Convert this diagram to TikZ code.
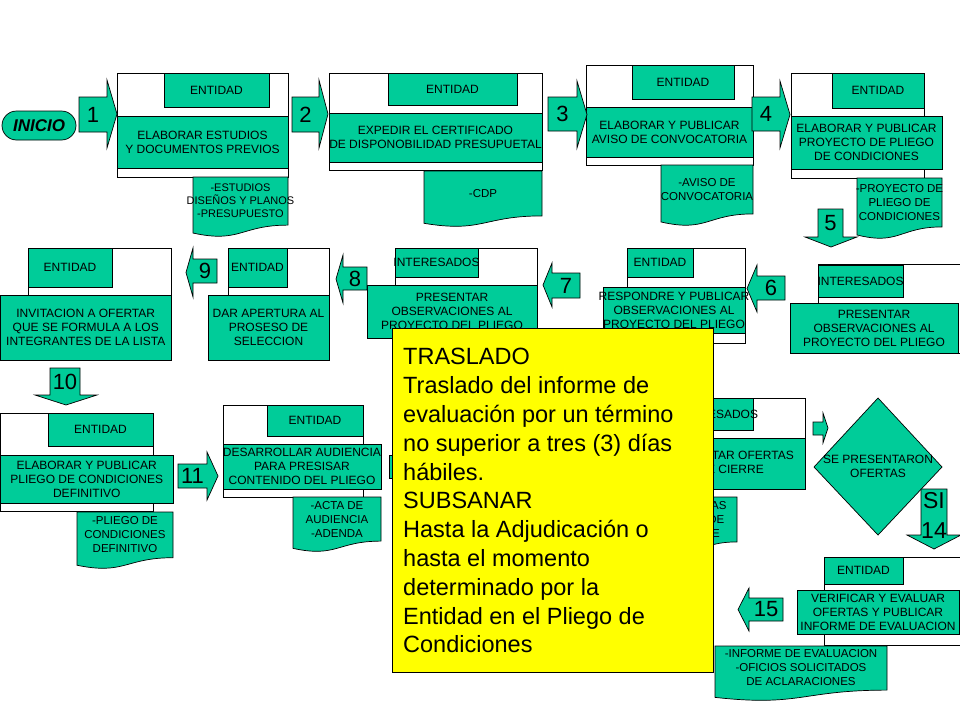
\documentclass[tikz,border=0pt]{standalone}
\usepackage{fontspec}
\setmainfont{Liberation Sans}
\definecolor{mygreen}{RGB}{0,204,153}
\definecolor{myyellow}{RGB}{255,255,0}
\tikzset{
  boxline/.style={draw=black, line width=0.7pt},
  txt/.style={font=\fontsize{12}{14}\selectfont, align=center, inner sep=0pt, text=black},
  doctxt/.style={font=\fontsize{11.5}{14}\selectfont, align=center, inner sep=0pt, text=black},
  numtxt/.style={font=\fontsize{22}{26}\selectfont, inner sep=0pt, text=black},
}
% white outer frame
\newcommand{\myWrect}[4]{\draw[boxline, fill=white] (#1,#2) rectangle (#3,#4);}
% green box with centered text
\newcommand{\myGbox}[6]{\draw[boxline, fill=mygreen] (#2,#3) rectangle (#4,#5);
  \node[txt] (#1) at ({(#2+#4)/2},{(#3+#5)/2}) {#6};}
% document shape
\newcommand{\myDoc}[6]{\draw[boxline, fill=mygreen] (#2,#3) -- (#4,#3) -- (#4,{#3+0.802*#5})
  .. controls ({(#2+#4)/2},{#3+0.802*#5}) and ({(#2+#4)/2},{#3+1.1075*#5}) .. (#2,{#3+0.934*#5}) -- cycle;
  \node[doctxt] (#1) at ({(#2+#4)/2},{#3+0.4*#5}) {#6};}
% right block arrow: name, xs, xb, xt, yst, ysb, yht, yhb, label
\newcommand{\myRarr}[9]{\draw[boxline, fill=mygreen] (#2,#5) -- (#3,#5) -- (#3,#7) -- (#4,{(#7+#8)/2}) -- (#3,#8) -- (#3,#6) -- (#2,#6) -- cycle;
  \node[numtxt] (#1) at ({(#2+#3)/2},{(#5+#6)/2}) {#9};}
% left block arrow: name, xt, xb, xs, yst, ysb, yht, yhb, label
\newcommand{\myLarr}[9]{\draw[boxline, fill=mygreen] (#2,{(#7+#8)/2}) -- (#3,#7) -- (#3,#5) -- (#4,#5) -- (#4,#6) -- (#3,#6) -- (#3,#8) -- cycle;
  \node[numtxt] (#1) at ({(#3+#4)/2},{(#5+#6)/2}) {#9};}
% down block arrow: name, xsl, xsr, xhl, xhr, ys, yb, yt, label
\newcommand{\myDarr}[9]{\draw[boxline, fill=mygreen] (#2,#6) -- (#3,#6) -- (#3,#7) -- (#5,#7) -- ({(#4+#5)/2},#8) -- (#4,#7) -- (#2,#7) -- cycle;
  \node[numtxt] (#1) at ({(#2+#3)/2},{(#6+#7)/2}) {#9};}
\begin{document}
\begin{tikzpicture}[x=1pt,y=-1pt]
\fill[white] (0,0) rectangle (960,720);
\useasboundingbox (0,0) rectangle (960,720);
\clip (0,0) rectangle (960,720);

% INICIO
\node[boxline, fill=mygreen, rounded corners=14.5pt, minimum width=74pt, minimum height=29pt, inner sep=0pt,
      font=\bfseries\itshape\fontsize{17}{20}\selectfont] (inicio) at (39,125.5) {INICIO};

% ---------- Row 1 ----------
\myWrect{117}{73}{288}{177}
\myGbox{e1}{164}{73}{269}{107}{ENTIDAD}
\myGbox{m1}{117}{116}{288}{168}{ELABORAR ESTUDIOS\\Y DOCUMENTOS PREVIOS}
\begin{scope}[doctxt/.append style={font=\fontsize{11}{13}\selectfont}]
\myDoc{d1}{193}{177}{288}{60}{-ESTUDIOS\\DISEÑOS Y PLANOS\\-PRESUPUESTO}
\end{scope}

\myWrect{329}{73}{542}{170}
\myGbox{e2}{388}{73}{517}{105}{ENTIDAD}
\myGbox{m2}{329}{113}{542}{162}{EXPEDIR EL CERTIFICADO\\DE DISPONOBILIDAD PRESUPUETAL}
\myDoc{d2}{424}{171}{542}{56}{-CDP}

\myWrect{586}{65}{753}{165}
\myGbox{e3}{632}{65}{734}{99}{ENTIDAD}
\myGbox{m3}{586}{107}{753}{157}{ELABORAR Y PUBLICAR\\AVISO DE CONVOCATORIA}
\myDoc{d3}{661}{165}{753}{61}{-AVISO DE\\CONVOCATORIA}

\myWrect{791}{73}{924}{178}
\myGbox{e4}{832}{73}{924}{108}{ENTIDAD}
\myGbox{m4}{791}{116}{942}{169}{ELABORAR Y PUBLICAR\\PROYECTO DE PLIEGO\\DE CONDICIONES}
\myDoc{d4}{857}{178}{942}{61}{-PROYECTO DE\\PLIEGO DE\\CONDICIONES}

\myRarr{a1}{79}{107}{117}{97}{132}{80}{148}{1}
\myRarr{a2}{292}{319}{328}{97}{132}{80}{148}{2}
\myRarr{a3}{548}{577}{587}{97}{131}{81}{148}{3}
\myRarr{a4}{752}{780}{790}{97}{131}{81}{148}{4}
\myDarr{a5}{818}{843}{805}{857}{209}{237}{247}{5}

% ---------- Row 2 ----------
\myWrect{818}{264}{975}{353}
\myGbox{e5}{818}{265}{903}{297}{INTERESADOS}
\myGbox{m5}{790}{303}{958}{353}{PRESENTAR\\OBSERVACIONES AL\\PROYECTO DEL PLIEGO}

\myWrect{627}{248}{745}{343}
\myGbox{e6}{627}{248}{693}{277}{ENTIDAD}
\myGbox{m6}{603}{287}{745}{333}{RESPONDRE Y PUBLICAR\\OBSERVACIONES AL\\PROYECTO DEL PLIEGO}

\myWrect{395}{248}{537}{330}
\myGbox{e7}{395}{248}{478}{277}{INTERESADOS}
\myGbox{m7}{367}{285}{537}{338}{PRESENTAR\\OBSERVACIONES AL\\PROYECTO DEL PLIEGO}

\myWrect{228}{248}{329}{330}
\myGbox{e8}{228}{248}{287}{287}{ENTIDAD}
\myGbox{m8}{208}{295}{329}{360}{DAR APERTURA AL\\PROSESO DE\\SELECCION}

\myWrect{28}{248}{171}{330}
\myGbox{e9}{28}{248}{112}{287}{ENTIDAD}
\myGbox{m9}{0.5}{295}{171}{360}{INVITACION A OFERTAR\\QUE SE FORMULA A LOS\\INTEGRANTES DE LA LISTA}

\myLarr{a6}{747}{757}{785}{276}{300}{265}{312}{6}
\myLarr{a7}{543}{552}{580}{273}{298}{263}{307}{7}
\myLarr{a8}{336}{343}{367}{267}{290}{255}{303}{8}
\myLarr{a9}{186}{193}{217}{259}{283}{248}{297}{9}
\myDarr{a10}{50}{80}{35}{97}{368}{395}{405}{10}

% ---------- Row 3 ----------
\myWrect{0.5}{413}{153}{511}
\myGbox{e10}{48}{413}{153}{446}{ENTIDAD}
\myGbox{m10}{0.5}{455}{173}{503}{ELABORAR Y PUBLICAR\\PLIEGO DE CONDICIONES\\DEFINITIVO}
\myDoc{d10}{77}{512}{173}{57}{-PLIEGO DE\\CONDICIONES\\DEFINITIVO}

\myWrect{223}{405}{363}{497}
\myGbox{e11}{267}{405}{363}{436}{ENTIDAD}
\myGbox{m11}{223}{444}{381}{489}{DESARROLLAR AUDIENCIA\\PARA PRESISAR\\CONTENIDO DEL PLIEGO}
\myDoc{d11}{293}{497}{381}{55}{-ACTA DE\\AUDIENCIA\\-ADENDA}

\myRarr{a11}{178}{207}{218}{464}{488}{452}{500}{11}
\draw[boxline, fill=mygreen] (389,455) rectangle (430,478);

% partially hidden step
\myWrect{668}{398}{805}{489}
\draw[boxline, fill=mygreen] (668,398) rectangle (753,430);
\node[txt] (e13) at (715,414) {INTERESADOS};
\draw[boxline, fill=mygreen] (651,438) rectangle (805,489);
\node[txt, anchor=base east] (m13) at (794,459) {PRESENTAR OFERTAS};
\node[txt, anchor=base east] (m13b) at (764,473) {DE CIERRE};
\myDoc{d13}{659}{497}{737}{56}{-OFERTAS\\-ACTA DE\\CIERRE}

\myRarr{a13}{813}{823}{828}{422}{435}{413}{443}{}
\draw[boxline, fill=mygreen] (814,467) -- (878,398) -- (942,467) -- (878,535) -- cycle;
\node[txt] (q) at (878,466) {SE PRESENTARON\\OFERTAS};
\myDarr{a14}{921}{947}{907}{961}{489}{535}{549}{}
\node[numtxt, align=center, font=\fontsize{23}{30}\selectfont] (n14) at (934,515) {SI\\14};

\myWrect{824}{557}{975}{645}
\myGbox{e15}{824}{557}{903}{584}{ENTIDAD}
\myGbox{m15}{797}{590}{959}{634}{VERIFICAR Y EVALUAR\\OFERTAS Y PUBLICAR\\INFORME DE EVALUACION}
\myDoc{d15}{715}{646}{887}{55}{-INFORME DE EVALUACION\\-OFICIOS SOLICITADOS\\DE ACLARACIONES}
\myLarr{a15}{738}{749}{783}{598}{621}{588}{631}{15}

% ---------- Yellow note ----------
\draw[boxline, fill=myyellow] (392,328) rectangle (713,672);
\node[anchor=north west, inner sep=0pt, align=left, font=\fontsize{23.5}{28.8}\selectfont] (note) at (403,348.2)
 {TRASLADO\\Traslado del informe de\\evaluación por un término\\no superior a tres (3) días\\hábiles.\\SUBSANAR\\Hasta la Adjudicación o\\hasta el momento\\determinado por la\\Entidad en el Pliego de\\Condiciones};
\end{tikzpicture}
\end{document}
